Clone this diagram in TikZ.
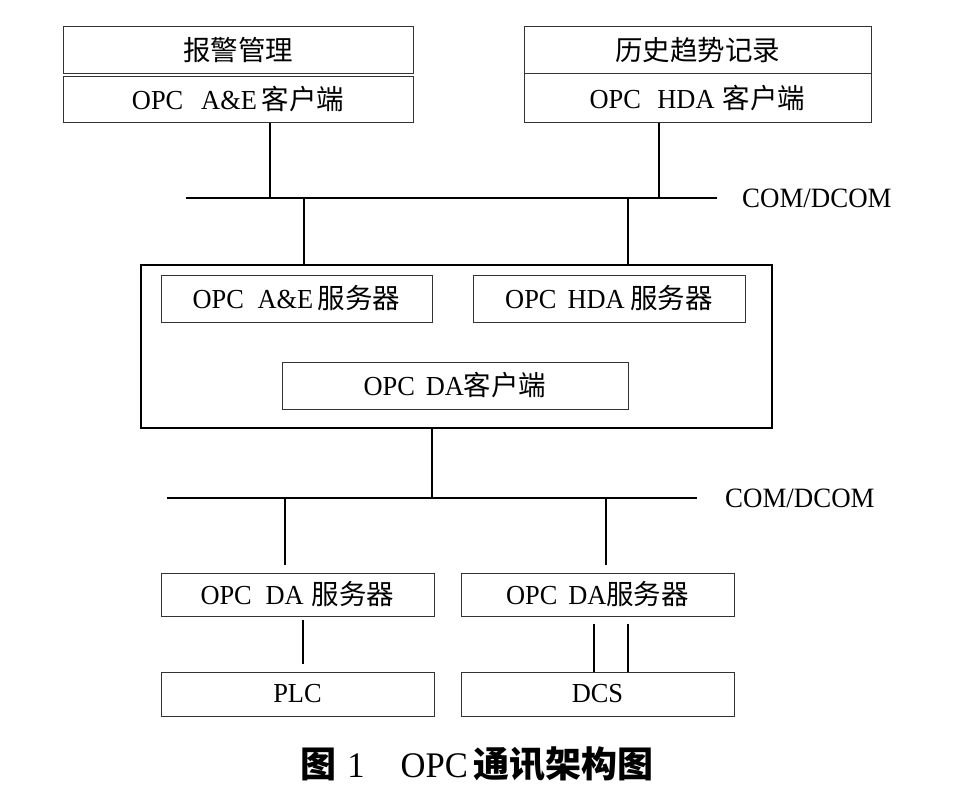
\documentclass[tikz,border=0pt]{standalone}
\usepackage{fontspec}
\setmainfont{Liberation Serif}[FakeStretch=0.96]
\newfontfamily\cjk{Noto Sans CJK SC}
\newcommand{\zh}[1]{{\cjk #1}}
\begin{document}
\begin{tikzpicture}[x=1pt,y=-1pt,
  box/.style={draw=black!80, line width=1pt, inner sep=0pt, font=\fontsize{27.5}{30}\selectfont},
  frame/.style={draw=black, line width=2.6pt, inner sep=0pt},
  bus/.style={draw=black, line width=2.8pt},
  link/.style={draw=black, line width=2pt},
  lbl/.style={anchor=west, inner sep=0pt, font=\fontsize{28}{30}\selectfont}]
\fill[white] (0,0) rectangle (961,792);
\useasboundingbox (0,0) rectangle (961,792);
% top clients
\node[box, minimum width=350, minimum height=47] (alarm) at (238,50.5) {\zh{报警管理}};
\node[box, minimum width=350, minimum height=45] (aeC) at (238,99.5) {OPC\hspace{0.65em}A\&E\,\zh{客户端}};
\node[box, minimum width=347, minimum height=47] (hist) at (697.5,50.5) {\zh{历史趋势记录}};
\node[box, minimum width=347, minimum height=48] (hdaC) at (697.5,98) {OPC\hspace{0.6em}HDA\hspace{0.3em}\zh{客户端}};
% bus 1
\coordinate (bus1L) at (186,198);
\coordinate (bus1R) at (717,198);
\draw[bus] (bus1L) -- (bus1R);
\node[lbl] (com1) at (742,198) {COM/DCOM};
% server frame
\node[frame, minimum width=631, minimum height=163] (srv) at (456.5,346.5) {};
\node[box, minimum width=271, minimum height=47] (aeS) at (296.5,298.5) {OPC\hspace{0.5em}A\&E\,\zh{服务器}};
\node[box, minimum width=272, minimum height=47] (hdaS) at (609,298.5) {OPC\hspace{0.4em}HDA\hspace{0.2em}\zh{服务器}};
\node[box, minimum width=346, minimum height=47] (daC) at (455,385.5) {OPC\hspace{0.4em}DA\zh{客户端}};
% connectors to bus 1
\draw[link] ([xshift=32pt]aeC.south) -- ([xshift=32pt]aeC.south |- bus1L);
\draw[link] ([xshift=-38.5pt]hdaC.south) -- ([xshift=-38.5pt]hdaC.south |- bus1L);
\draw[link] ([xshift=-152.5pt]srv.north |- bus1L) -- ([xshift=-152.5pt]srv.north);
\draw[link] ([xshift=171.5pt]srv.north |- bus1L) -- ([xshift=171.5pt]srv.north);
% bus 2
\coordinate (bus2L) at (167,498);
\coordinate (bus2R) at (697,498);
\draw[bus] (bus2L) -- (bus2R);
\node[lbl] (com2) at (725,498) {COM/DCOM};
\draw[link] ([xshift=-24.5pt]srv.south) -- ([xshift=-24.5pt]srv.south |- bus2L);
% DA servers and devices
\node[box, minimum width=273, minimum height=43] (daS1) at (297.5,594.5) {OPC\hspace{0.5em}DA\hspace{0.3em}\zh{服务器}};
\node[box, minimum width=273, minimum height=43] (daS2) at (597.5,594.5) {OPC\hspace{0.4em}DA\zh{服务器}};
\node[box, minimum width=273, minimum height=44] (plc) at (297.5,694) {PLC};
\node[box, minimum width=273, minimum height=44] (dcs) at (597.5,694) {DCS};
\draw[link, shorten >=8pt] ([xshift=-12.5pt]daS1.north |- bus2L) -- ([xshift=-12.5pt]daS1.north);
\draw[link, shorten >=8pt] ([xshift=8.5pt]daS2.north |- bus2L) -- ([xshift=8.5pt]daS2.north);
\draw[link, shorten <=3pt, shorten >=8pt] ([xshift=5.5pt]daS1.south) -- ([xshift=5.5pt]plc.north);
\draw[link, shorten <=7pt] ([xshift=-3.5pt]daS2.south) -- ([xshift=-3.5pt]dcs.north);
\draw[link, shorten <=7pt] ([xshift=30.5pt]daS2.south) -- ([xshift=30.5pt]dcs.north);
% caption
\node[inner sep=0pt, font=\fontsize{36}{40}\selectfont] (cap) at (477,764) {{\cjk\bfseries 图}\hspace{0.3em}1\hspace{1em}OPC\hspace{0.15em}{\cjk\bfseries 通讯架构图}};
\end{tikzpicture}
\end{document}
